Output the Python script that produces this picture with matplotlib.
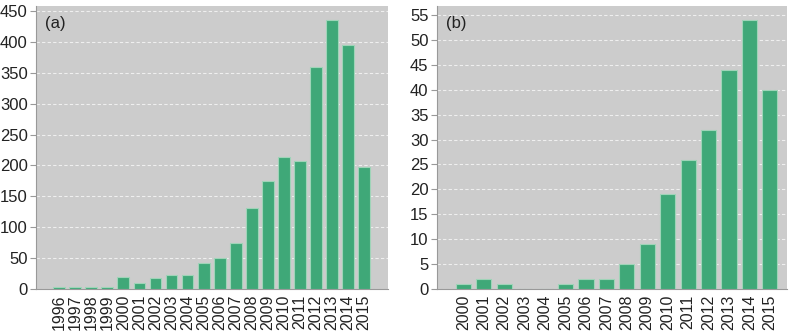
import matplotlib

matplotlib.use("Agg")
import matplotlib.pyplot as plt
import numpy as np

plt.rcParams["font.family"] = ["Liberation Sans", "DejaVu Sans"]

# panel (a)
years_a = [str(y) for y in range(1996, 2016)]
counts_a = [3, 3, 3, 3, 20, 9, 18, 22, 22, 42, 50, 75, 131, 175, 213, 208, 360, 435, 395, 197]

# panel (b)
years_b = [str(y) for y in range(2000, 2016)]
counts_b = [1, 2, 1, 0, 0, 1, 2, 2, 5, 9, 19, 26, 32, 44, 54, 40]

BAR = "#3fa878"
EDGE = "#9fd4b8"
BG = "#cccccc"


def panel(ax, labels, vals, ymax, yticks, xlim, tag):
    x = np.arange(len(labels))
    ax.set_facecolor(BG)
    ax.bar(x, vals, 0.74, color=BAR, edgecolor=EDGE, linewidth=0.8, zorder=3)
    ax.set_xlim(*xlim)
    ax.set_ylim(0, ymax)
    ax.set_yticks(yticks)
    ax.set_xticks(x)
    ax.set_xticklabels(labels, rotation=90)
    ax.grid(axis="y", color="white", linestyle=(0, (3, 2)), linewidth=0.8, alpha=0.7, zorder=1)
    for s in ["top", "right"]:
        ax.spines[s].set_visible(False)
    for s in ["left", "bottom"]:
        ax.spines[s].set_color("#999999")
        ax.spines[s].set_linewidth(0.8)
    ax.tick_params(axis="y", length=4, color="#999999", labelsize=12, pad=2, labelcolor="#222222")
    ax.tick_params(axis="x", length=0, labelsize=11.5, pad=4, labelcolor="#222222")
    ax.text(0.025, 0.965, tag, transform=ax.transAxes, fontsize=12, va="top", ha="left",
            color="#222222")


fig = plt.figure(figsize=(8, 3.34), dpi=100)
ax1 = fig.add_axes([0.045, 0.1347, 0.44, 0.847])
ax2 = fig.add_axes([0.546, 0.1347, 0.438, 0.847])

panel(ax1, years_a, counts_a, 458, range(0, 451, 50), (-1.45, 20.5), "(a)")
panel(ax2, years_b, counts_b, 56.8, range(0, 56, 5), (-1.3, 15.85), "(b)")

fig.savefig("out.png", dpi=100)
